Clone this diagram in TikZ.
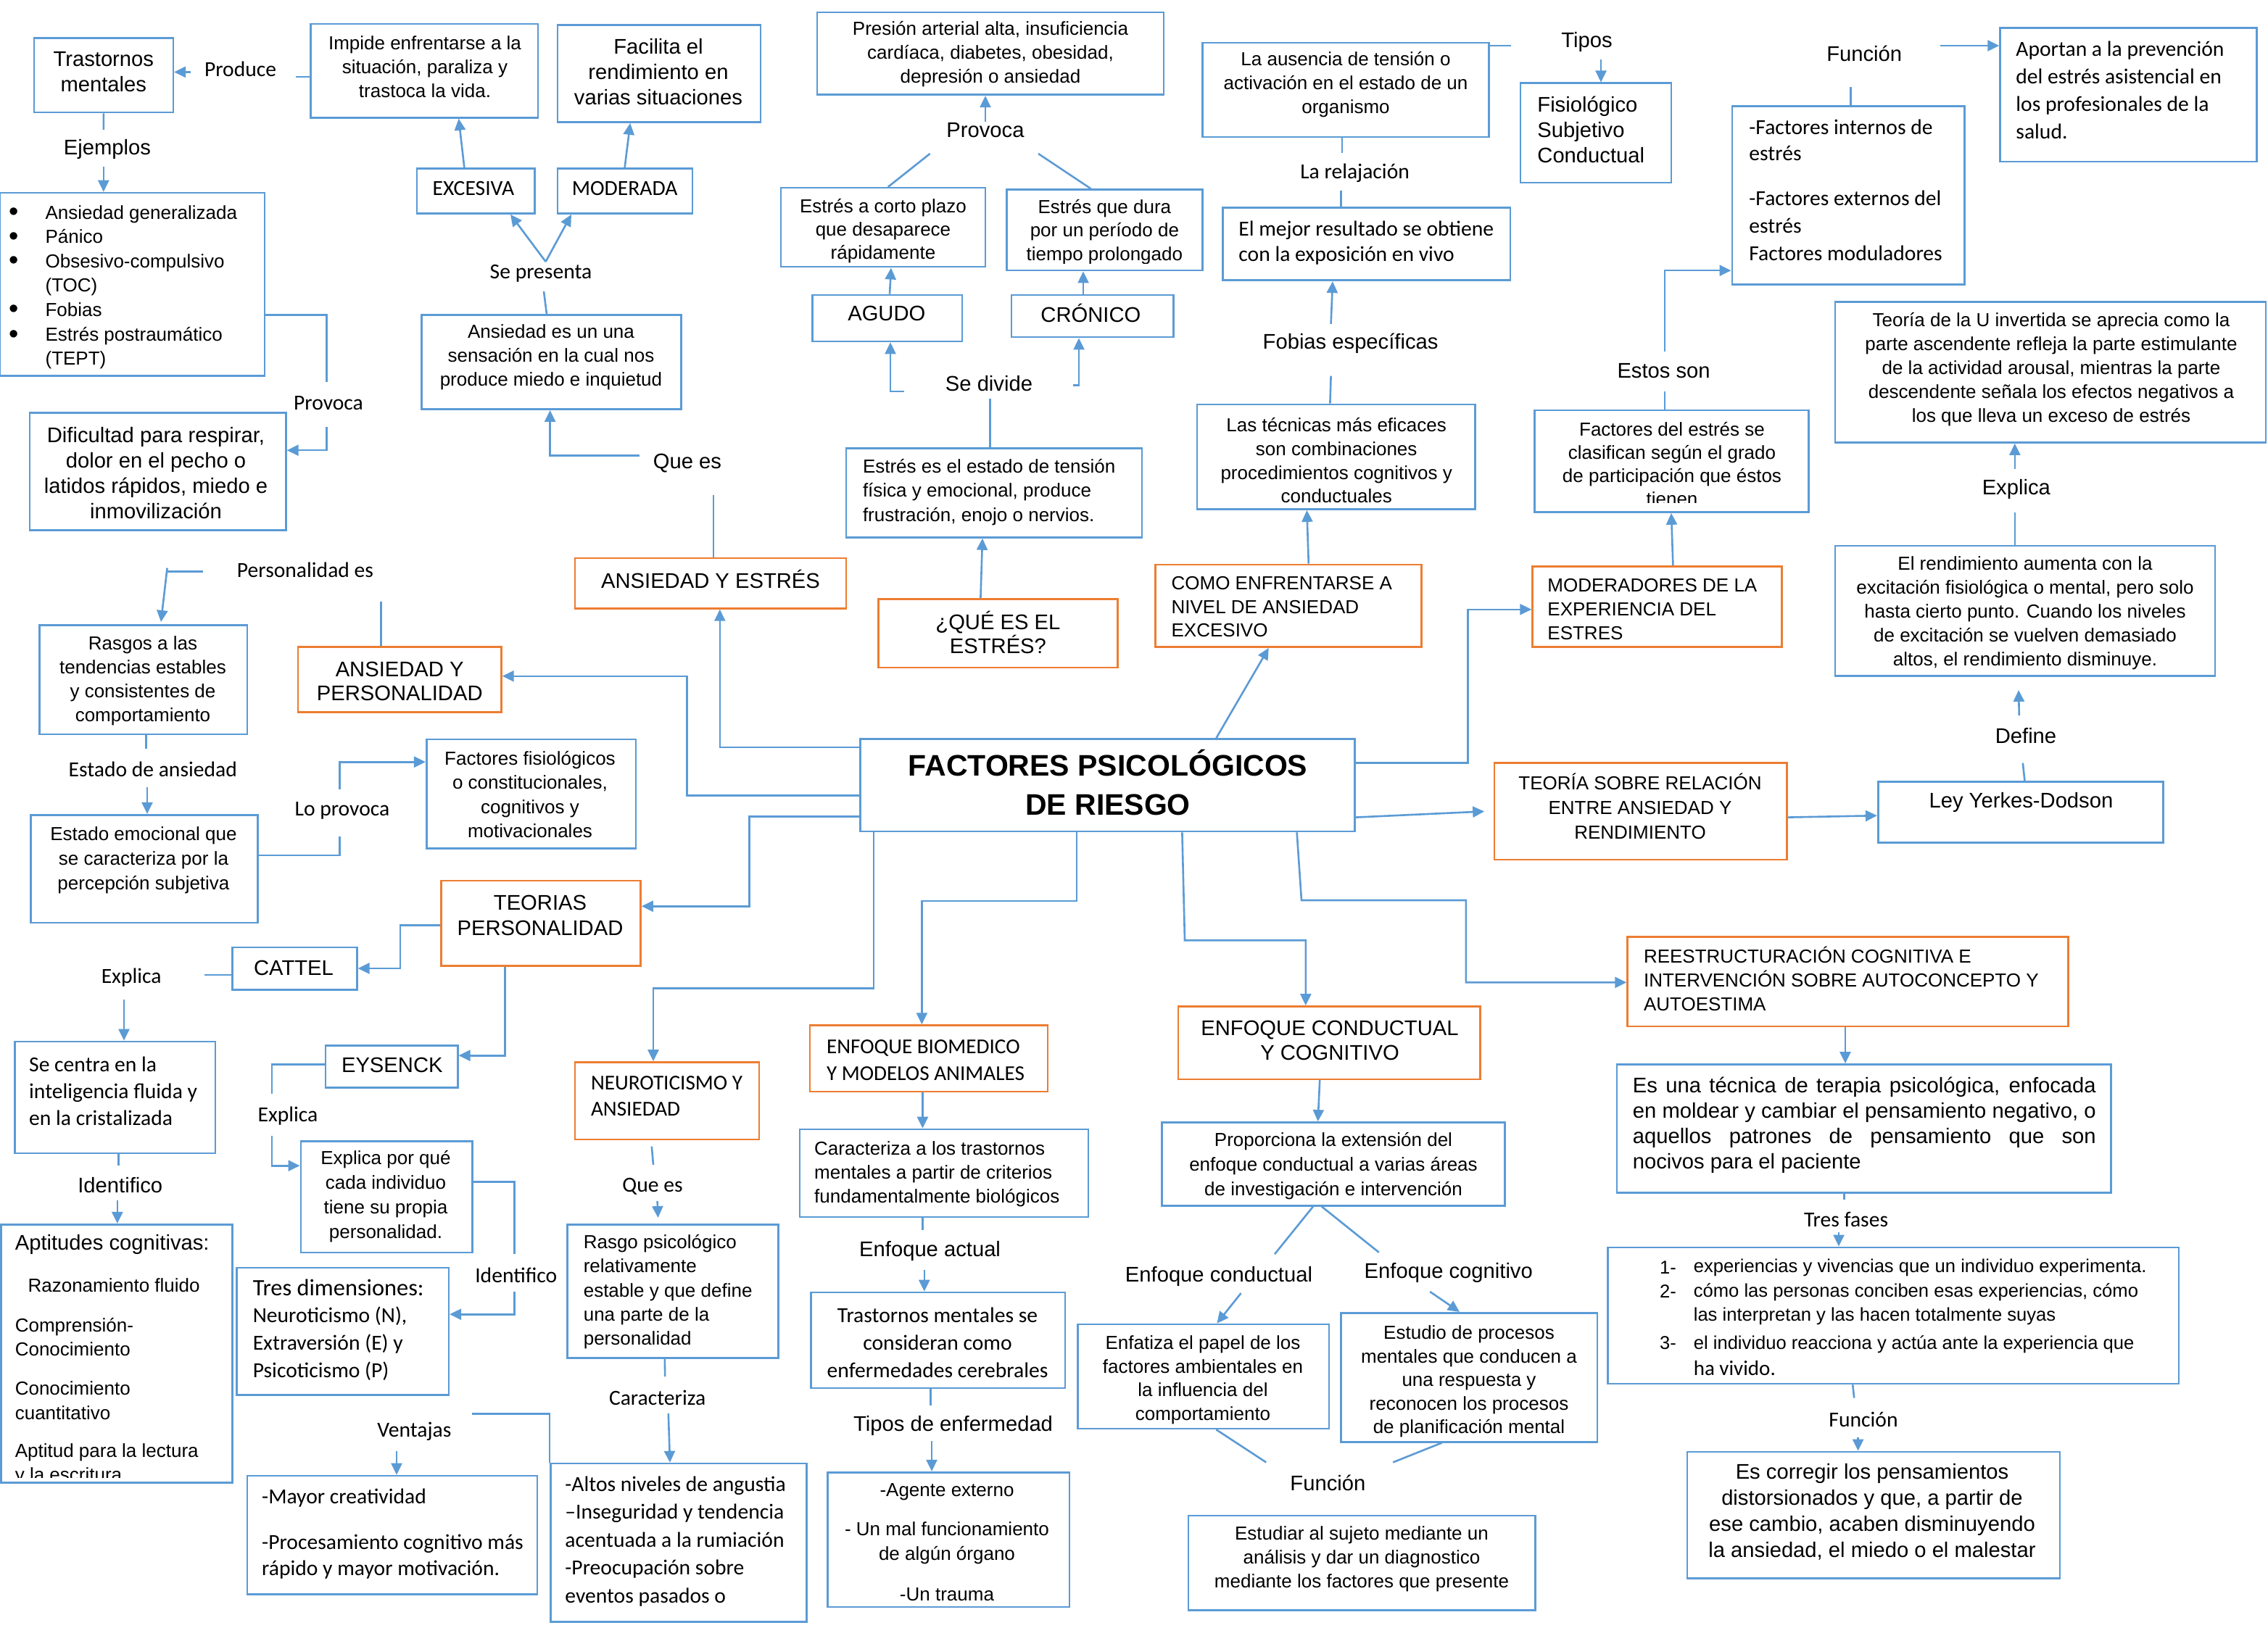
\documentclass[tikz,border=0pt]{standalone}
\usepackage{fontspec}
\setmainfont{Liberation Sans}
\newfontfamily\calib{Carlito}
\usetikzlibrary{arrows.meta,fit}
\definecolor{bblue}{HTML}{5B9BD5}
\definecolor{borange}{HTML}{ED7D31}
\tikzset{
 bx/.style={draw=bblue, line width=1.3pt, inner sep=0pt},
 ox/.style={draw=borange, line width=1.3pt, inner sep=0pt},
 ln/.style={draw=bblue, line width=1.3pt},
 arr/.style={draw=bblue, line width=1.3pt, -{Triangle[length=8pt,width=7.5pt]}},
 ts/.style={inner sep=0pt, align=center, font=\fontsize{13}{16.6}\selectfont},
 tl/.style={inner sep=0pt, align=center, font=\fontsize{14.6}{17.5}\selectfont},
 tc/.style={inner sep=0pt, align=center, font=\calib\fontsize{14.8}{19}\selectfont},
 lft/.style={align=left, anchor=west},
 bul/.style={inner sep=0pt, font=\fontsize{19}{19}\selectfont},
}
\begin{document}
\begin{tikzpicture}[x=1pt,y=-1pt]
\useasboundingbox (0,0) rectangle (1564,1123);
\fill[white] (0,0) rectangle (1564,1123);

% ---------- boxes ----------
\node[bx, fit={(23.5,26.2) (119.4,77.5)}] (trm) {};
\node[tl] (trmT) at (71.4,49.7) {Trastornos\\mentales};

\node[bx, fit={(214.2,16.5) (371,81.2)}] (imp) {};
\node[ts] (impT) at (293,46) {Impide enfrentarse a la\\situación, paraliza y\\trastoca la vida.};

\node[bx, fit={(384.4,17.4) (524.4,84.3)}] (fac) {};
\node[tl] (facT) at (454,49.3) {Facilita el\\rendimiento en\\varias situaciones};

\node[bx, fit={(287.5,116.3) (368.6,147.3)}] (exc) {};
\node[tc] (excT) at (326.5,130) {EXCESIVA};
\node[bx, fit={(384.4,116.3) (477.5,147.3)}] (mod) {};
\node[tc] (modT) at (430.8,130) {MODERADA};

\node[bx, fit={(0,133) (182.4,259.3)}] (lst) {};
\node[bul] (b1) at (9.7,147.8) {•};
\node[bul] (b2) at (9.7,164.8) {•};
\node[bul] (b3) at (9.7,181.5) {•};
\node[bul] (b4) at (9.7,215) {•};
\node[bul] (b5) at (9.7,232.3) {•};
\node[ts, lft, font=\fontsize{13}{16.77}\selectfont] (lstT) at (31.1,198.1) {Ansiedad generalizada\\Pánico\\Obsesivo-compulsivo\\(TOC)\\Fobias\\Estrés postraumático\\(TEPT)};

\node[bx, fit={(20.4,284.7) (197.2,365.9)}] (dif) {};
\node[tl] (difT) at (107.5,326.4) {Dificultad para respirar,\\dolor en el pecho o\\latidos rápidos, miedo e\\inmovilización};

\node[bx, fit={(290.8,217.3) (469.6,282.3)}] (ans) {};
\node[ts] (ansT) at (380,246.3) {Ansiedad es un una\\sensación en la cual nos\\produce miedo e inquietud};

\node[bx, fit={(563.5,8.5) (802.4,65.4)}] (pre) {};
\node[ts] (preT) at (683,37.2) {Presión arterial alta, insuficiencia\\cardíaca, diabetes, obesidad,\\depresión o ansiedad};

\node[bx, fit={(538.5,129.6) (679.5,184.1)}] (ecp) {};
\begin{scope}
\clip (538.5,129.6) rectangle (679.5,181.5);
\node[ts, font=\fontsize{13}{16}\selectfont] (ecpT) at (609,159.5) {Estrés a corto plazo\\que desaparece\\rápidamente};
\end{scope}

\node[bx, fit={(694.3,130.8) (829.2,186.6)}] (eqd) {};
\begin{scope}
\clip (694.3,130.8) rectangle (829.2,182);
\node[ts, font=\fontsize{13}{16.3}\selectfont] (eqdT) at (761.7,160) {Estrés que dura\\por un período de\\tiempo prolongado};
\end{scope}

\node[bx, fit={(560.2,203.5) (663.5,235.5)}] (agu) {};
\node[tl] (aguT) at (611.4,216) {AGUDO};
\node[bx, fit={(697.4,203.5) (809.3,232.6)}] (cro) {};
\node[tl] (croT) at (752.2,216) {CRÓNICO};

\node[bx, fit={(583.4,309.4) (787.4,370.7)}] (eee) {};
\node[ts, lft] (eeeT) at (594.8,339.5) {Estrés es el estado de tensión\\física y emocional, produce\\frustración, enojo o nervios.};

\node[bx, fit={(829.2,29.6) (1026.7,94.5)}] (aus) {};
\node[ts] (ausT) at (928,58.2) {La ausencia de tensión o\\activación en el estado de un\\organismo};

\node[bx, fit={(1048.4,57.4) (1152.5,126)}] (fis) {};
\node[tl, lft] (fisT) at (1060,89.3) {Fisiológico\\Subjetivo\\Conductual};

\node[bx, fit={(843.3,143.4) (1041.5,193.4)}] (mej) {};
\node[tc, lft, font=\calib\fontsize{14.8}{17.7}\selectfont] (mejT) at (854,167.5) {El mejor resultado se obtiene\\con la exposición en vivo};

\node[bx, fit={(825.4,279) (1017.2,351.3)}] (tec) {};
\node[ts, font=\fontsize{13}{16.4}\selectfont] (tecT) at (921.6,317.6) {Las técnicas más eficaces\\son combinaciones\\procedimientos cognitivos y\\conductuales};

\node[bx, fit={(1058.1,283) (1247.2,353.3)}] (fes) {};
\begin{scope}
\clip (1058.1,283) rectangle (1247.2,347);
\node[ts, font=\fontsize{13}{16}\selectfont] (fesT) at (1153,320.2) {Factores del estrés se\\clasifican según el grado\\de participación que éstos\\tienen};
\end{scope}

\node[bx, fit={(1194.4,73.2) (1354.7,196.3)}] (fct) {};
\node[tc, lft, font=\calib\fontsize{14.8}{18.2}\selectfont] (fctA) at (1206,96.8) {-Factores internos de\\estrés};
\node[tc, lft, font=\calib\fontsize{14.8}{18.8}\selectfont] (fctB) at (1206,155.7) {-Factores externos del\\estrés\\Factores moduladores};

\node[bx, fit={(1379.3,19.4) (1556.3,111.5)}] (apo) {};
\node[tc, lft, font=\calib\fontsize{14.8}{19}\selectfont] (apoT) at (1390,62.4) {Aportan a la prevención\\del estrés asistencial en\\los profesionales de la\\salud.};

\node[bx, fit={(1265.5,208.4) (1562.5,305.3)}] (teu) {};
\node[ts, font=\fontsize{13}{16.5}\selectfont] (teuT) at (1414.5,254.8) {Teoría de la U invertida se aprecia como la\\parte ascendente refleja la parte estimulante\\de la actividad arousal, mientras la parte\\descendente señala los efectos negativos a\\los que lleva un exceso de estrés};

\node[bx, fit={(1265.5,376.5) (1527.4,466.2)}] (ren) {};
\node[ts, font=\fontsize{13}{16.5}\selectfont] (renT) at (1396.5,423) {El rendimiento aumenta con la\\excitación fisiológica o mental, pero solo\\hasta cierto punto. Cuando los niveles\\de excitación se vuelven demasiado\\altos, el rendimiento disminuye.};

\node[bx, fit={(1295.1,539.1) (1491.7,581.3)}] (ley) {};
\node[tl] (leyT) at (1393.7,553.4) {Ley Yerkes-Dodson};

\node[ox, fit={(1030.5,526.3) (1232.3,592.9)}] (teo) {};
\node[ts, font=\fontsize{13}{17}\selectfont] (teoT) at (1131,556) {TEORÍA SOBRE RELACIÓN\\ENTRE ANSIEDAD Y\\RENDIMIENTO};

\node[ox, fit={(1056.8,390.6) (1228.6,446.3)}] (mdr) {};
\node[ts, lft, font=\fontsize{13}{16.3}\selectfont] (mdrT) at (1067,420.3) {MODERADORES DE LA\\EXPERIENCIA DEL\\ESTRES};

\node[ox, fit={(796.6,389.4) (980.3,446.3)}] (com) {};
\node[ts, lft, font=\fontsize{13}{16.4}\selectfont] (comT) at (807.6,418.6) {COMO ENFRENTARSE A\\NIVEL DE ANSIEDAD\\EXCESIVO};

\node[bx, fit={(593.3,509.8) (934.3,573.5)}] (frc) {};
\node[inner sep=0pt, align=center, font=\bfseries\fontsize{20.5}{26.7}\selectfont] (frcT) at (764,539.7) {FACTORES PSICOLÓGICOS\\DE RIESGO};

\node[ox, fit={(396.4,385) (583.4,419.7)}] (aye) {};
\node[tl] (ayeT) at (490,399.5) {ANSIEDAD Y ESTRÉS};

\node[ox, fit={(605.6,413.1) (770.6,460.4)}] (que) {};
\node[tl, font=\fontsize{14.6}{16.5}\selectfont] (queT) at (688.2,436) {¿QUÉ ES EL\\ESTRÉS?};

\node[ox, fit={(205.4,446.3) (345.7,491.2)}] (ayp) {};
\node[tl, font=\fontsize{14.6}{16.7}\selectfont] (aypT) at (275.6,470) {ANSIEDAD Y\\PERSONALIDAD};

\node[bx, fit={(27.3,431.3) (170.4,506.4)}] (ras) {};
\node[ts, font=\fontsize{13}{16.4}\selectfont] (rasT) at (98.5,469.7) {Rasgos a las\\tendencias estables\\y consistentes de\\comportamiento};

\node[bx, fit={(21.2,562.1) (177.8,636.5)}] (emo) {};
\node[ts, font=\fontsize{13}{17.1}\selectfont] (emoT) at (99,593.5) {Estado emocional que\\se caracteriza por la\\percepción subjetiva};

\node[bx, fit={(294.1,510) (438.5,585.2)}] (ffi) {};
\node[ts] (ffiT) at (365.5,548) {Factores fisiológicos\\o constitucionales,\\cognitivos y\\motivacionales};

\node[ox, fit={(304.3,607.5) (441.8,666.1)}] (tpe) {};
\node[tl, font=\fontsize{14.6}{17.7}\selectfont] (tpeT) at (372.5,631.4) {TEORIAS\\PERSONALIDAD};

\node[bx, fit={(160.2,653.5) (246.2,682.6)}] (cat) {};
\node[tl] (catT) at (202.5,667.5) {CATTEL};

\node[bx, fit={(10.2,718.4) (148.5,795.5)}] (scn) {};
\node[tc, lft, font=\calib\fontsize{14.8}{18.5}\selectfont] (scnT) at (19.9,752.8) {Se centra en la\\inteligencia fluida y\\en la cristalizada};

\node[bx, fit={(224.5,721.3) (315.6,750.3)}] (eys) {};
\node[tl] (eysT) at (270.4,734.5) {EYSENCK};

\node[bx, fit={(0.8,844.6) (160.2,1022.7)}] (apt) {};
\node[tl, lft] (aptA) at (10.2,858.5) {Aptitudes cognitivas:};
\node[ts, lft] (aptB) at (19.1,886.6) {Razonamiento fluido};
\node[ts, lft] (aptC) at (10.2,922.3) {Comprensión-\\Conocimiento};
\node[ts, lft, font=\fontsize{13}{17}\selectfont] (aptD) at (10.2,966) {Conocimiento\\cuantitativo};
\begin{scope}
\clip (0.8,990) rectangle (160.2,1019);
\node[ts, lft] (aptE) at (10.2,1010.2) {Aptitud para la lectura\\y la escritura};
\end{scope}

\node[bx, fit={(207.4,787.1) (325.8,863.9)}] (epq) {};
\node[ts, font=\fontsize{13}{16.9}\selectfont] (epqT) at (266,825.3) {Explica por qué\\cada individuo\\tiene su propia\\personalidad.};

\node[bx, fit={(163.3,874.4) (309.4,962.3)}] (tdi) {};
\node[tc, lft, font=\calib\fontsize{14.8}{18.9}\selectfont] (tdiT) at (174.2,917.3) {{\fontsize{16.2}{18.9}\selectfont Tres dimensiones:}\\Neuroticismo (N),\\Extraversión (E) y\\Psicoticismo (P)};

\node[bx, fit={(170.4,1018) (370.4,1099.6)}] (myc) {};
\node[tc, lft] (mycA) at (180.4,1033.2) {-Mayor creatividad};
\node[tc, lft, font=\calib\fontsize{14.8}{17.9}\selectfont] (mycB) at (180.4,1073.9) {-Procesamiento cognitivo más\\rápido y mayor motivación.};

\node[bx, fit={(379.6,1009.5) (556.3,1118.7)}] (alt) {};
\node[tc, lft, font=\calib\fontsize{14.8}{19.25}\selectfont] (altT) at (389.5,1063.1) {-Altos niveles de angustia\\–Inseguridad y tendencia\\acentuada a la rumiación\\-Preocupación sobre\\eventos pasados o};

\node[ox, fit={(396.4,732.7) (523.4,785.9)}] (neu) {};
\node[tc, lft, font=\calib\fontsize{14.6}{18.1}\selectfont] (neuT) at (407.3,755.9) {NEUROTICISMO Y\\ANSIEDAD};

\node[bx, fit={(391.3,844.6) (536.7,936.7)}] (rsg) {};
\node[ts, lft, font=\fontsize{13}{16.65}\selectfont] (rsgT) at (402.2,891.1) {Rasgo psicológico\\relativamente\\estable y que define\\una parte de la\\personalidad};

\node[ox, fit={(558.4,707.3) (722.4,753)}] (bio) {};
\node[tc, lft, font=\calib\fontsize{14.6}{18.9}\selectfont] (bioT) at (569.8,731.3) {ENFOQUE BIOMEDICO\\Y MODELOS ANIMALES};

\node[bx, fit={(551.5,779) (750.5,839.4)}] (car) {};
\node[ts, lft, font=\fontsize{13}{16.45}\selectfont] (carT) at (561.4,809.8) {Caracteriza a los trastornos\\mentales a partir de criterios\\fundamentalmente biológicos};

\node[bx, fit={(559.1,891.5) (734.4,957.4)}] (tms) {};
\node[tc, font=\calib\fontsize{14.8}{19}\selectfont] (tmsT) at (646.5,926.3) {Trastornos mentales se\\consideran como\\enfermedades cerebrales};

\node[bx, fit={(570.6,1015.6) (737.5,1108.4)}] (age) {};
\node[ts] (ageA) at (653,1029) {-Agente externo};
\node[ts, font=\fontsize{13}{17.1}\selectfont] (ageB) at (653,1064.5) {- Un mal funcionamiento\\de algún órgano};
\node[ts] (ageC) at (653,1099.6) {-Un trauma};

\node[ox, fit={(812.4,694.2) (1020.6,744.4)}] (enc) {};
\node[tl, font=\fontsize{14.6}{17}\selectfont] (encT) at (917,717.7) {ENFOQUE CONDUCTUAL\\Y COGNITIVO};

\node[ox, fit={(1122.3,646.2) (1426.3,708)}] (rst) {};
\node[ts, lft, font=\fontsize{13}{16.5}\selectfont] (rstT) at (1133.3,675.3) {REESTRUCTURACIÓN COGNITIVA E\\INTERVENCIÓN SOBRE AUTOCONCEPTO Y\\AUTOESTIMA};

\node[bx, fit={(1115,734.2) (1455.7,822.6)}] (est) {};
\node[tl, lft, font=\fontsize{14.6}{17.5}\selectfont] (estT) at (1125.7,776) {\makebox[319.5pt][s]{Es una técnica de terapia psicológica, enfocada}\\\makebox[319.5pt][s]{en moldear y cambiar el pensamiento negativo, o}\\\makebox[319.5pt][s]{aquellos patrones de pensamiento que son}\\nocivos para el paciente};

\node[bx, fit={(801.2,774.2) (1037.7,831.6)}] (prp) {};
\node[ts, font=\fontsize{13}{17.1}\selectfont] (prpT) at (919.5,804.3) {Proporciona la extensión del\\enfoque conductual a varias áreas\\de investigación e intervención};

\node[bx, fit={(743.3,913.5) (916.5,985.5)}] (enf) {};
\begin{scope}
\clip (743.3,913.5) rectangle (916.5,982);
\node[ts, font=\fontsize{13}{16.3}\selectfont] (enfT) at (829.5,951.8) {Enfatiza el papel de los\\factores ambientales en\\la influencia del\\comportamiento};
\end{scope}

\node[bx, fit={(924.6,905.6) (1101.4,994.6)}] (epr) {};
\begin{scope}
\clip (924.6,905.6) rectangle (1101.4,991);
\node[ts, font=\fontsize{13}{16.25}\selectfont] (eprT) at (1013,953) {Estudio de procesos\\mentales que conducen a\\una respuesta y\\reconocen los procesos\\de planificación mental};
\end{scope}

\node[bx, fit={(819.5,1045.4) (1058.6,1110.6)}] (esd) {};
\node[ts] (esdT) at (939,1075.3) {Estudiar al sujeto mediante un\\análisis y dar un diagnostico\\mediante los factores que presente};

\node[bx, fit={(1108.6,860.4) (1502.5,954.5)}] (tfl) {};
\node[inner sep=0pt, align=left, anchor=west, font=\fontsize{12.8}{16.6}\selectfont] (tflN) at (1144.3,882.7) {1-\\2-};
\node[inner sep=0pt, align=left, anchor=west, font=\fontsize{12.8}{16.6}\selectfont] (tflN3) at (1144.3,926.2) {3-};
\node[inner sep=0pt, align=left, anchor=west, font=\fontsize{12.8}{16.8}\selectfont] (tflA) at (1167.7,891.2) {experiencias y vivencias que un individuo experimenta.\\cómo las personas conciben esas experiencias, cómo\\las interpretan y las hacen totalmente suyas};
\node[inner sep=0pt, align=left, anchor=west, font=\fontsize{12.8}{17.8}\selectfont] (tflB) at (1167.7,935.1) {el individuo reacciona y actúa ante la experiencia que\\{\calib\fontsize{14.5}{17.8}\selectfont ha vivido.}};

\node[bx, fit={(1163.4,1001.4) (1420.5,1088.6)}] (ecr) {};
\node[tl, font=\fontsize{14.6}{17.9}\selectfont] (ecrT) at (1291,1042.9) {Es corregir los pensamientos\\distorsionados y que, a partir de\\ese cambio, acaben disminuyendo\\la ansiedad, el miedo o el malestar};

% ---------- labels ----------
\node[tc] (lProd) at (165.8,47.7) {Produce};
\node[tl] (lEj) at (74,103) {Ejemplos};
\node[tc] (lProv1) at (226.5,278) {Provoca};
\node[tc] (lSep) at (373,188.5) {Se presenta};
\node[tl] (lQue1) at (474,319.4) {Que es};
\node[tl] (lProv2) at (679.5,90) {Provoca};
\node[tl] (lSed) at (682,264.6) {Se divide};
\node[tl] (lTip) at (1094.3,29) {Tipos};
\node[tc] (lRel) at (934.3,119.5) {La relajación};
\node[tl] (lFob) at (931.3,237) {Fobias específicas};
\node[tl] (lEst) at (1147.3,256) {Estos son};
\node[tl] (lFun1) at (1285.6,36.8) {Función};
\node[tl] (lExp1) at (1390.4,337.5) {Explica};
\node[tl] (lDef) at (1397,507.4) {Define};
\node[tc] (lPer) at (210.5,393) {Personalidad es};
\node[tc] (lEsa) at (105.4,530.6) {Estado de ansiedad};
\node[tc] (lLop) at (236,559) {Lo provoca};
\node[tc] (lExp2) at (90.6,674.1) {Explica};
\node[tl] (lId1) at (82.9,817.7) {Identifico};
\node[tc] (lExp3) at (198.5,770) {Explica};
\node[tc] (lId2) at (355.9,879.7) {Identifico};
\node[tc] (lVen) at (285.7,987.5) {Ventajas};
\node[tc] (lQue2) at (450,818.2) {Que es};
\node[tc] (lCar) at (453.3,964.3) {Caracteriza};
\node[tl] (lEna) at (641.3,862.9) {Enfoque actual};
\node[tl] (lTie) at (657.3,983.6) {Tipos de enfermedad};
\node[tl] (lEnc) at (840.5,880.5) {Enfoque conductual};
\node[tl] (lEng) at (998.9,878) {Enfoque cognitivo};
\node[tl] (lFun2) at (915.7,1022.9) {Función};
\node[tc] (lTre) at (1273,841.4) {Tres fases};
\node[tc] (lFun3) at (1285,979.4) {Función};

% ---------- connectors ----------
\draw[ln] (imp.west |- 0,53) -- (204,53);
\draw[arr] (131.3,49.7) -- (trm.east |- 0,49.7);
\draw[ln] (trm.south) -- (71.4,89.6);
\draw[arr] (71.4,115) -- (lst.north -| 71.4,0);
\draw[ln] (lst.east |- 0,217.3) -| (225.3,263.4);
\draw[arr] (225.3,294.4) |- (dif.east |- 0,310.6);
\draw[arr] (exc.north -| 320.2,0) -- (imp.south -| 316.3,0);
\draw[arr] (mod.north -| 430.8,0) -- (fac.south -| 434.6,0);
\draw[arr] (376.3,180.5) -- (exc.south -| 352,0);
\draw[arr] (376.3,180.5) -- (mod.south -| 394,0);
\draw[ln] (ans.north -| 377,0) -- (375,201);
\draw[ln] (aye.north -| 492,0) -- (492,341.6);
\draw[arr] (441,314.3) -| (ans.south -| 379.3,0);
\draw[arr] (679.5,84) -- (pre.south -| 679.5,0);
\draw[ln] (641.3,106) -- (ecp.north -| 612.4,0);
\draw[ln] (716,106) -- (eqd.north -| 752.2,0);
\draw[arr] (agu.north -| 613.5,0) -- (ecp.south -| 614.5,0);
\draw[arr] (cro.north -| 747,0) -- (eqd.south -| 747,0);
\draw[arr] (623.4,270) -| (agu.south -| 614,0);
\draw[arr] (740,265.8) -| (cro.south -| 744,0);
\draw[ln] (eee.north -| 682.6,0) -- (682.6,275);
\draw[arr] (que.north -| 676.2,0) -- (eee.south -| 677.5,0);
\draw[ln] (aus.east |- 0,31.5) -- (1042,31.5);
\draw[arr] (1104,41.2) -- (fis.north -| 1104,0);
\draw[ln] (aus.south -| 925.4,0) -- (925.4,105.4);
\draw[ln] (924.6,131.3) -- (mej.north -| 924.6,0);
\draw[arr] (917.8,223.4) -- (mej.south -| 919,0);
\draw[ln] (tec.north -| 917.2,0) -- (917.8,259.3);
\draw[arr] (com.north -| 902.4,0) -- (tec.south -| 901.2,0);
\draw[arr] (frc.north -| 838.7,0) -- (com.south -| 874.9,0);
\draw[arr] (frc.east |- 0,526.3) -| (1012.1,420.4) -- (mdr.west |- 0,420.4);
\draw[arr] (mdr.north -| 1153.7,0) -- (fes.south -| 1152.5,0);
\draw[ln] (fes.north -| 1147.9,0) -- (1147.9,270.2);
\draw[arr] (1147.9,242.3) |- (fct.west |- 0,186.6);
\draw[ln] (fct.north -| 1276.3,0) -- (1276.3,60);
\draw[arr] (1337.9,31.5) -- (apo.west |- 0,31.5);
\draw[ln] (ren.north -| 1389.4,0) -- (1389.4,353.3);
\draw[arr] (1389.4,323.5) -- (teu.south -| 1389.4,0);
\draw[ln] (ley.north -| 1396.2,0) -- (1394.9,526.3);
\draw[arr] (1392.4,493.6) -- (1392,476);
\draw[arr] (teo.east |- 0,563.8) -- (ley.west |- 0,562.6);
\draw[arr] (frc.east |- 0,563.8) -- (1023.6,559.7);
\draw[arr] (frc.south -| 894.3,0) -- (897.5,621) -| (1010.9,677.7) -- (rst.west |- 0,677.7);
\draw[arr] (frc.south -| 815.2,0) -- (817,648.6) -| (enc.north -| 900.4,0);
\draw[arr] (rst.south -| 1272.5,0) -- (est.north -| 1272.5,0);
\draw[ln] (est.south -| 1271.8,0) -- (1271.8,827.5);
\draw[arr] (1268,850) -- (tfl.north -| 1268,0);
\draw[ln] (tfl.south -| 1277.6,0) -- (1278.6,964.3);
\draw[arr] (1281.3,991.6) -- (ecr.north -| 1281.3,0);
\draw[arr] (enc.south -| 910.1,0) -- (prp.north -| 908.8,0);
\draw[ln] (prp.south -| 905.5,0) -- (879,865.1);
\draw[ln] (prp.south -| 911.4,0) -- (950.9,863.9);
\draw[arr] (855.8,892) -- (enf.north -| 839.2,0);
\draw[arr] (986.1,891) -- (epr.north -| 1006.5,0);
\draw[ln] (enf.south -| 838.7,0) -- (873.1,1008.7);
\draw[ln] (epr.south -| 994.3,0) -- (960.6,1008.7);
\draw[arr] (frc.south -| 742.5,0) -- (742.5,621.5) -| (bio.north -| 635.7,0);
\draw[arr] (bio.south -| 636.2,0) -- (car.north -| 636.2,0);
\draw[ln] (car.south -| 636.2,0) -- (636.2,848.7);
\draw[arr] (637.4,876) -- (tms.north -| 637.4,0);
\draw[ln] (tms.south -| 641.8,0) -- (641.8,969.6);
\draw[arr] (642.5,994) -- (age.north -| 642.5,0);
\draw[arr] (frc.south -| 602.5,0) -- (602.5,681.8) -| (neu.north -| 450.5,0);
\draw[ln] (449.4,790.8) -- (450.5,803.5);
\draw[arr] (453.3,828.4) -- (453.8,840);
\draw[ln] (rsg.south -| 458.4,0) -- (458.6,949.6);
\draw[arr] (460.9,975) -- (alt.north -| 462,0);
\draw[arr] (frc.west |- 0,563.1) -| (516.8,625.1) -- (tpe.east |- 0,625.1);
\draw[arr] (frc.west |- 0,548.6) -| (473.7,466.4) -- (ayp.east |- 0,466.4);
\draw[arr] (frc.west |- 0,515.4) -| (aye.south -| 496.4,0);
\draw[ln] (ayp.north -| 262.8,0) -- (262.8,414.8);
\draw[ln] (139.8,394.2) -- (114.8,394.2);
\draw[arr] (115.3,391.8) -- (111,429);
\draw[ln] (ras.south -| 100.8,0) -- (100.8,516.6);
\draw[arr] (101.5,543.2) -- (emo.north -| 101.5,0);
\draw[ln] (emo.east |- 0,590) -| (234.2,577.2);
\draw[arr] (234.2,544.5) |- (ffi.west |- 0,525.6);
\draw[arr] (tpe.west |- 0,638.2) -| (276,668) -- (cat.east |- 0,668);
\draw[ln] (cat.west |- 0,672.4) -- (141,672.4);
\draw[arr] (85.5,689.4) -- (scn.north -| 85.5,0);
\draw[arr] (tpe.south -| 348.2,0) |- (eys.east |- 0,728.1);
\draw[ln] (eys.west |- 0,734.2) -| (187.5,754.7);
\draw[arr] (187.5,783.5) |- (epq.west |- 0,804.1);
\draw[ln] (scn.south -| 81.6,0) -- (81.6,804);
\draw[arr] (80.9,828) -- (apt.north -| 80.9,0);
\draw[ln] (epq.east |- 0,815.2) -| (354.6,865);
\draw[arr] (354.6,891) |- (tdi.east |- 0,906.6);
\draw[ln] (alt.north west) |- (325.3,975.3);
\draw[arr] (273.5,1000.9) -- (myc.north -| 273.5,0);
\end{tikzpicture}
\end{document}
